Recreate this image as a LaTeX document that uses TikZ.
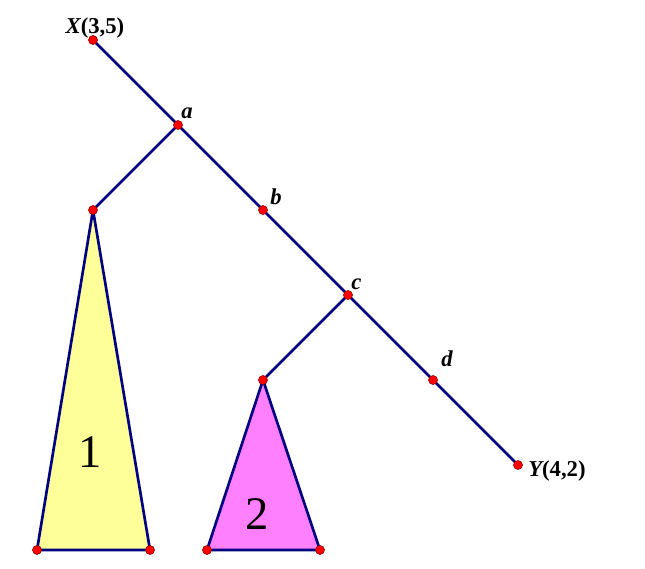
\documentclass[tikz,border=0pt]{standalone}
\usepackage{fontspec}
\setmainfont{Liberation Serif}
\usepackage{tikz}
\usetikzlibrary{backgrounds}

\definecolor{edgeblue}{RGB}{0,0,128}
\definecolor{lightyellow}{RGB}{255,255,153}
\definecolor{pinkfill}{RGB}{255,128,255}

\tikzset{
  dot/.style={circle,fill=red,draw=red!50!black,line width=0.4pt,inner sep=0pt,minimum size=6.8pt},
  edge/.style={draw=edgeblue,line width=2pt},
  lbl/.style={font=\fontsize{17}{19}\selectfont\bfseries\itshape,inner sep=0pt},
  num/.style={font=\fontsize{35}{38}\selectfont,inner sep=0pt}
}

\begin{document}
\begin{tikzpicture}[x=0.75pt,y=-0.75pt]
	\useasboundingbox (0,0) rectangle (645,568);
	% points on the path
	\node (X) [dot] at (93,40) {};
	\node (a) [dot] at (178,125) {};
	\node (b) [dot] at (263,210) {};
	\node (c) [dot] at (348,295) {};
	\node (d) [dot] at (433,380) {};
	\node (Y) [dot] at (518,465) {};
	% subtrees
	\node (top1) [dot] at (93,210) {};
	\node (left1) [dot] at (37,550) {};
	\node (right1) [dot] at (150,550) {};
	\node (top2) [dot] at (263,380) {};
	\node (left2) [dot] at (207,550) {};
	\node (right2) [dot] at (320,550) {};
	\begin{scope}[on background layer]
	\fill[lightyellow] (top1.center) -- (left1.center) -- (right1.center) -- cycle;
	\fill[pinkfill] (top2.center) -- (left2.center) -- (right2.center) -- cycle;
	\draw[edge,line join=round] (top1.center) -- (left1.center) -- (right1.center) -- cycle;
	\draw[edge,line join=round] (top2.center) -- (left2.center) -- (right2.center) -- cycle;
	\draw[edge] (X.center) -- (a.center) -- (b.center) -- (c.center) -- (d.center) -- (Y.center);
	\draw[edge] (a.center) -- (top1.center);
	\draw[edge] (c.center) -- (top2.center);
	\end{scope}
	% labels
	\node (labX) [lbl] at (95,28) {X\upshape(3,5)};
	\node (labA) [lbl,anchor=south west] at (181,119) {a};
	\node (labB) [lbl,anchor=south west] at (270,205) {b};
	\node (labC) [lbl,anchor=south west] at (351,290) {c};
	\node (labD) [lbl,anchor=south west] at (441,367) {d};
	\node (labY) [lbl,anchor=west] at (528,471) {Y\upshape(4,2)};
	\node (one) [num] at (90,452) {1};
	\node (two) [num] at (257,514) {2};
\end{tikzpicture}
\end{document}
